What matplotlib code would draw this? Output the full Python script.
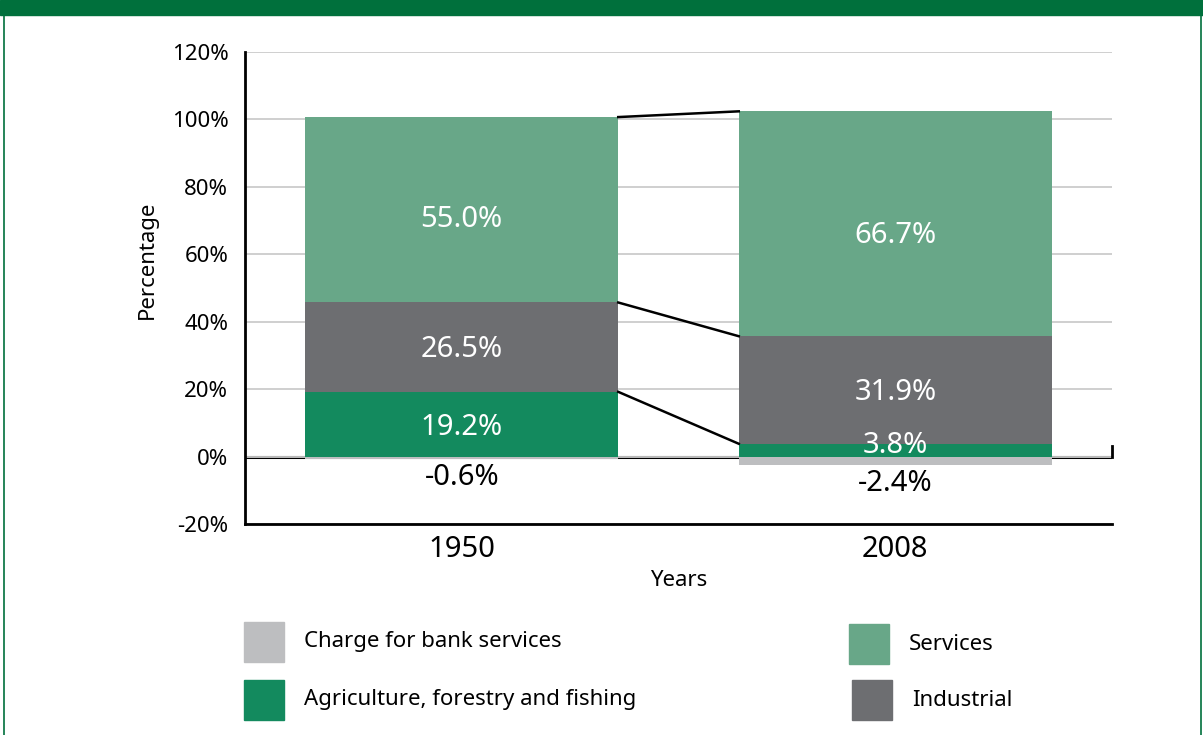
import matplotlib
matplotlib.use("Agg")
import matplotlib.pyplot as plt
from matplotlib.patches import Rectangle
import numpy as np

plt.rcParams['font.family'] = ['Noto Sans', 'DejaVu Sans']

years = ["1950", "2008"]
series = ["Charge for bank services", "Agriculture, forestry and fishing", "Industrial", "Services"]
bank = [-0.6, -2.4]
agri = [19.2, 3.8]
industrial = [26.5, 31.9]
services = [55.0, 66.7]
yticks = [-20, 0, 20, 40, 60, 80, 100, 120]

c_bank = "#BDBEC0"
c_agri = "#138A5E"
c_ind = "#6D6E71"
c_serv = "#68A788"
c_banner = "#00703C"

W, H = 1203, 735
fig = plt.figure(figsize=(W/100, H/100), dpi=100)

# banner and border
fig.patches.append(Rectangle((0, 1 - 15/H), 1, 15/H, transform=fig.transFigure, color=c_banner, zorder=0))
fig.add_artist(plt.Line2D([4/W, 4/W], [0, 1], transform=fig.transFigure, color=c_banner, lw=1.2))
fig.add_artist(plt.Line2D([1201/W, 1201/W], [0, 1], transform=fig.transFigure, color=c_banner, lw=1.2))

ax = fig.add_axes([245/W, 1 - 524/H, 867/W, 472/H])
x = np.arange(len(years))
bw = 0.722

ax.bar(x, bank, bw, color=c_bank, zorder=2)
ax.bar(x, agri, bw, color=c_agri, zorder=2)
ind_bottom = np.array(agri)
ax.bar(x, industrial, bw, bottom=ind_bottom, color=c_ind, zorder=2)
serv_bottom = ind_bottom + np.array(industrial)
ax.bar(x, services, bw, bottom=serv_bottom, color=c_serv, zorder=2)
tops = serv_bottom + np.array(services)

# connector lines
for lvl in [np.array(agri), serv_bottom, tops]:
    ax.plot([x[0] + bw/2, x[1] - bw/2], [lvl[0], lvl[1]], color="black", lw=1.8, zorder=3)

ax.set_xlim(-0.5, 1.5)
ax.set_ylim(-20, 120)
ax.set_yticks(yticks)
ax.set_yticklabels([f"{v}%" for v in yticks], fontsize=16)
ax.set_xticks(x)
ax.set_xticklabels(years, fontsize=21)
ax.tick_params(axis='both', length=0)
ax.tick_params(axis='y', pad=12)
ax.tick_params(axis='x', pad=8)
ax.grid(axis='y', color="#CCCCCC", lw=1.3, zorder=0)
ax.axhline(0, color="black", lw=2.2, zorder=1.5)
ax.plot([1.5, 1.5], [0, 3], color="black", lw=2, clip_on=False, zorder=4)
for s in ["top", "right"]:
    ax.spines[s].set_visible(False)
ax.spines["left"].set_linewidth(2)
ax.spines["bottom"].set_linewidth(2)
ax.set_ylabel("Percentage", fontsize=16, labelpad=12)
ax.yaxis.set_label_coords(-0.101, 0.56)
ax.set_xlabel("Years", fontsize=16, labelpad=4)

# value labels
fs = 21
for i in x:
    if agri[i] > 8:
        ax.text(i, agri[i] / 2 - 1.0, f"{agri[i]:.1f}%", ha="center", va="center", color="white", fontsize=fs, zorder=5)
    else:
        ax.text(i, agri[i] - 0.5, f"{agri[i]:.1f}%", ha="center", va="center", color="white", fontsize=fs, zorder=5)
    ax.text(i, ind_bottom[i] + industrial[i] / 2 - 0.6, f"{industrial[i]:.1f}%", ha="center", va="center",
            color="white", fontsize=fs, zorder=5)
    ax.text(i, serv_bottom[i] + services[i] * 0.45, f"{services[i]:.1f}%", ha="center", va="center",
            color="white", fontsize=fs, zorder=5)
    ax.text(i, bank[i] - 5.6, f"{bank[i]:.1f}%", ha="center", va="center", color="black", fontsize=fs, zorder=5)

# legend
legend_items = [
    (series[0], c_bank, 244, 622, 304),
    (series[1], c_agri, 244, 680, 304),
    (series[3], c_serv, 849, 624, 909),
    (series[2], c_ind, 852, 680, 912),
]
for lab, col, sx, sy, tx in legend_items:
    fig.patches.append(Rectangle((sx/W, 1 - (sy + 40)/H), 40/W, 40/H, transform=fig.transFigure, color=col))
    fig.text(tx/W, 1 - (sy + 20)/H, lab, fontsize=16, va="center", ha="left")

fig.savefig("out.png", dpi=100)
